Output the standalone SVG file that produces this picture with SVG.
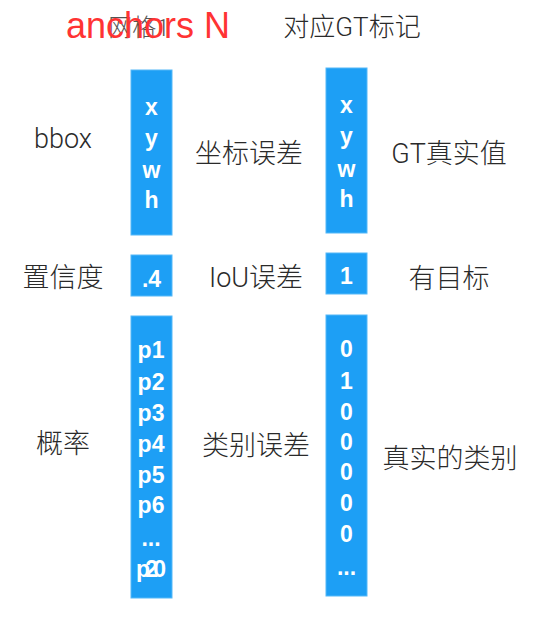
<svg xmlns="http://www.w3.org/2000/svg" width="536" height="640" viewBox="0 0 536 640">
<style>
.lbl{font-family:"Roboto","Noto Sans CJK SC",sans-serif;font-size:27px;fill:#2a2a2a;text-anchor:middle;font-weight:300}
.bar{fill:#1d9ff5;stroke:#55b8f8;stroke-width:1}
.v{font-family:"Liberation Sans",Arial,sans-serif;font-size:23px;font-weight:bold;fill:#ffffff;text-anchor:middle}
.red{font-family:"Liberation Sans",Arial,sans-serif;font-size:36px;fill:#ff3333}
</style>
<rect width="536" height="640" fill="#ffffff"/>
<g id="headers">
<text class="lbl" x="139" y="36" style="font-size:24px;fill:#555">网格1</text>
<text class="lbl" x="352" y="36" style="font-size:26px">对应GT标记</text>
<text class="red" x="66" y="38">anchors N</text>
</g>
<g id="left-labels">
<text class="lbl" x="63" y="148">bbox</text>
<text class="lbl" x="63" y="287">置信度</text>
<text class="lbl" x="63" y="453">概率</text>
</g>
<g id="mid-labels">
<text class="lbl" x="249" y="163">坐标误差</text>
<text class="lbl" x="256" y="287">IoU误差</text>
<text class="lbl" x="256" y="455">类别误差</text>
</g>
<g id="right-labels">
<text class="lbl" x="449" y="163">GT真实值</text>
<text class="lbl" x="449" y="288">有目标</text>
<text class="lbl" x="450" y="468">真实的类别</text>
</g>
<g id="pred-bbox">
<rect class="bar" x="131" y="70" width="41" height="165"/>
<text class="v" x="151.5" y="115">x</text>
<text class="v" x="151.5" y="146">y</text>
<text class="v" x="151.5" y="178">w</text>
<text class="v" x="151.5" y="208">h</text>
</g>
<g id="gt-bbox">
<rect class="bar" x="326" y="68" width="41" height="165"/>
<text class="v" x="346.5" y="113">x</text>
<text class="v" x="346.5" y="144">y</text>
<text class="v" x="346.5" y="177">w</text>
<text class="v" x="346.5" y="207">h</text>
</g>
<g id="pred-conf">
<rect class="bar" x="131" y="255" width="41" height="41"/>
<text class="v" x="151.5" y="287">.4</text>
</g>
<g id="gt-conf">
<rect class="bar" x="326" y="253" width="41" height="41"/>
<text class="v" x="346.5" y="284">1</text>
</g>
<g id="pred-class">
<rect class="bar" x="131" y="316" width="41" height="282"/>
<text class="v" x="151" y="358">p1</text>
<text class="v" x="151" y="390">p2</text>
<text class="v" x="151" y="421">p3</text>
<text class="v" x="151" y="452">p4</text>
<text class="v" x="151" y="483">p5</text>
<text class="v" x="151" y="513">p6</text>
<text class="v" x="151" y="546">...</text>
<text class="v" x="151" y="577" textLength="30" lengthAdjust="spacing">p20</text>
</g>
<g id="gt-class">
<rect class="bar" x="326" y="315" width="41" height="281"/>
<text class="v" x="346.5" y="357">0</text>
<text class="v" x="346.5" y="389">1</text>
<text class="v" x="346.5" y="420">0</text>
<text class="v" x="346.5" y="450">0</text>
<text class="v" x="346.5" y="480">0</text>
<text class="v" x="346.5" y="511">0</text>
<text class="v" x="346.5" y="542">0</text>
<text class="v" x="346.5" y="575">...</text>
</g>
<g id="connectors"></g>
</svg>
